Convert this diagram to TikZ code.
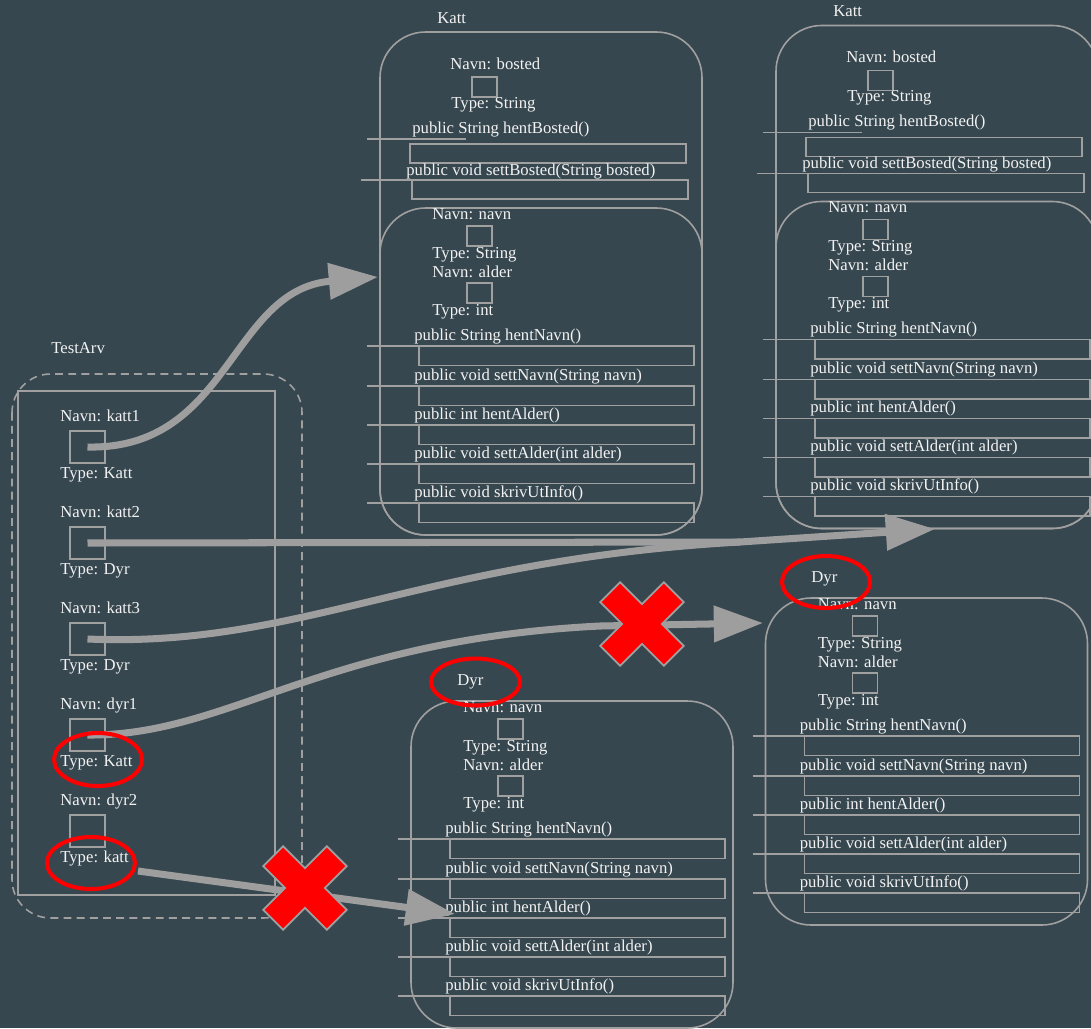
\documentclass[tikz,border=0pt]{standalone}
\usepackage{fontspec}
\setmainfont{Liberation Serif}
\usetikzlibrary{arrows.meta,shapes.geometric}
\definecolor{bgc}{RGB}{55,71,79}
\definecolor{linec}{RGB}{160,160,160}
\definecolor{arrc}{RGB}{158,158,158}
\definecolor{txtc}{RGB}{242,242,242}
\tikzset{
  lbl/.style={anchor=base west, inner sep=0pt, text=txtc},
  abox/.style={draw=linec, line width=1.1pt, minimum width=0.5cm, minimum height=0.4cm, inner sep=0pt},
  vbox/.style={draw=linec, line width=1.1pt, minimum width=0.7cm, minimum height=0.64cm, inner sep=0pt},
  slot/.style={draw=linec, line width=1.1pt},
  frame/.style={draw=linec, line width=0.9pt, rounded corners=26pt},
  dframe/.style={draw=linec, line width=0.9pt, rounded corners=22pt, dash pattern=on 4.5pt off 3pt},
  stub/.style={draw=linec, line width=0.9pt},
  arr/.style={draw=arrc, line width=4pt, line join=round, -{Triangle[length=28pt,width=20pt]}},
  arrline/.style={draw=arrc, line width=4pt, line join=round},
  ring/.style={draw=red, line width=2.3pt, ellipse, inner sep=0pt},
  xmark/.style={fill=red, draw=linec, line width=1pt, line join=miter}
}
\newcommand{\dyrdel}[3]{%
  \begin{scope}[shift={(#2,#3)}]
    \draw[frame] (380,208) rectangle (702,535);
    \node[lbl] (#1navnN) at (432,219) {Navn: navn};
    \node[abox] (#1navnB) at (479.5,236) {};
    \node[lbl] (#1navnT) at (432,258) {Type: String};
    \node[lbl] (#1alderN) at (432,277) {Navn: alder};
    \node[abox] (#1alderB) at (479.5,293) {};
    \node[lbl] (#1alderT) at (432,315) {Type: int};
    \foreach \r/\t [count=\i] in {346/{public String hentNavn()}, 386/{public void settNavn(String navn)}, 425/{public int hentAlder()}, 464/{public void settAlder(int alder)}, 503/{public void skrivUtInfo()}} {
      \node[lbl] (#1m\i) at (414,\r-6) {\t};
      \draw[stub] (367,\r) -- (419,\r);
      \draw[slot] (419,\r) rectangle (694,\r+19.5);
    }
  \end{scope}}
\newcommand{\kattdel}[3]{%
  \begin{scope}[shift={(#2,#3)}]
    \draw[frame] (380,32) rectangle (702,535);
    \node[lbl] (#1title) at (437,23) {Katt};
    \node[lbl] (#1bostedN) at (450,69) {Navn: bosted};
    \node[abox] (#1bostedB) at (484.5,87) {};
    \node[lbl] (#1bostedT) at (451,108) {Type: String};
    \node[lbl] (#1hb) at (412,133) {public String hentBosted()};
    \draw[stub] (367,139) -- (466,139);
    \draw[slot] (410,144) rectangle (686,163);
    \node[lbl] (#1sb) at (406,175) {public void settBosted(String bosted)};
    \draw[stub] (361,180) -- (460,180);
    \draw[slot] (412,180) rectangle (688,199);
  \end{scope}
  \dyrdel{#1}{#2}{#3}}
\newcommand{\bigx}[2]{%
  \begin{scope}[shift={(#1,#2)}, rotate=45]
    \draw[xmark] (14,45) -- (14,14) -- (45,14) -- (45,-14) -- (14,-14) -- (14,-45) -- (-14,-45) -- (-14,-14) -- (-45,-14) -- (-45,14) -- (-14,14) -- (-14,45) -- cycle;
  \end{scope}}
\begin{document}
\begin{tikzpicture}[x=0.02cm, y=-0.02cm, font=\fontsize{9.5}{11}\selectfont]
\useasboundingbox (0,0) rectangle (1091,1028);
\clip (0,0) rectangle (1091,1028);
\fill[bgc] (0,0) rectangle (1091,1028);

% classes
\kattdel{ka}{0}{0}
\kattdel{kb}{396}{-6.5}
\node[lbl] (d1title) at (811,582) {Dyr};
\dyrdel{da}{385.5}{390}
\node[lbl] (d2title) at (457,685) {Dyr};
\dyrdel{db}{31}{493}

% TestArv
\node[lbl] (ttitle) at (51,353) {TestArv};
\draw[dframe] (12,374) rectangle (302,918);
\draw[stub] (18,391) rectangle (275,895);
\foreach \n/\t [count=\i from 0] in {katt1/Katt, katt2/Dyr, katt3/Dyr, dyr1/Katt, dyr2/katt} {
  \node[lbl] (vn\i) at (60,421+96*\i) {Navn: \n};
  \node[vbox] (vb\i) at (87.5,447+96*\i) {};
  \node[lbl] (vt\i) at (60,478+96*\i) {Type: \t};
}

% connectors
\coordinate (k1in) at (378,277);
\coordinate (k2in) at (935,529);
\coordinate (join) at (740,542);
\coordinate (d1in) at (763,623);
\coordinate (d2in) at (455,914);
\coordinate (dyr2out) at (138,871);
\draw[arr] (vb0.center) .. controls (230,450) and (230,290) .. (k1in);
\draw[arrline] (vb2.center) .. controls (300,648) and (420,560) .. (join);
\draw[arr] (vb1.center) -- (join) -- (k2in);
\draw[arr] (vb3.center) .. controls (230,736) and (320,640) .. (600,626) -- (d1in);
\draw[arr] (dyr2out) -- (d2in);

% red marks
\node[ring, minimum width=1.76cm, minimum height=1.06cm] (ring1) at (98,759.5) {};
\node[ring, minimum width=1.76cm, minimum height=1.04cm] (ring2) at (91,863) {};
\node[ring, minimum width=1.76cm, minimum height=1.04cm] (ring3) at (826,582) {};
\node[ring, minimum width=1.78cm, minimum height=0.94cm] (ring4) at (475.5,682) {};
\bigx{642}{624}
\bigx{305}{888}
\end{tikzpicture}
\end{document}
